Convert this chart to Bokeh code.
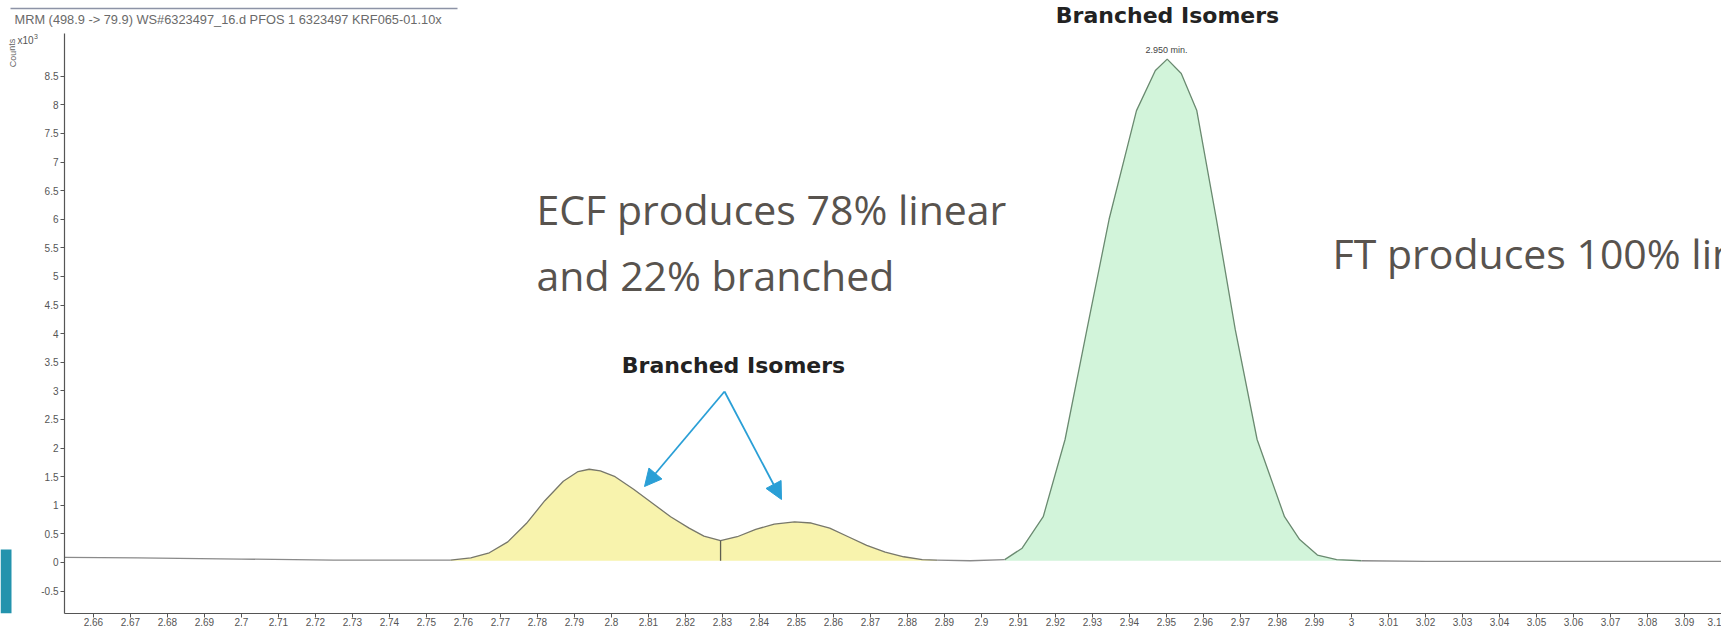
from bokeh.plotting import figure
from bokeh.layouts import column, row
from bokeh.models import Label, Arrow, NormalHead, FixedTicker, Range1d
from bokeh.embed import file_html
from bokeh.resources import INLINE

# ---------------- data ----------------
base_left_rt = [2.6522, 2.672, 2.700, 2.725, 2.745, 2.7565]
base_left_counts = [0.09, 0.08, 0.06, 0.04, 0.04, 0.04]

ecf_rt = [2.7565, 2.762, 2.767, 2.772, 2.777, 2.782, 2.787, 2.791, 2.794, 2.797,
          2.801, 2.806, 2.811, 2.816, 2.821, 2.825, 2.8295, 2.834, 2.839, 2.844,
          2.8495, 2.854, 2.859, 2.864, 2.869, 2.874, 2.879, 2.884, 2.888]
ecf_counts = [0.04, 0.08, 0.17, 0.36, 0.68, 1.08, 1.42, 1.59, 1.63, 1.60,
              1.50, 1.28, 1.04, 0.80, 0.60, 0.46, 0.38, 0.45, 0.58, 0.67,
              0.71, 0.69, 0.60, 0.45, 0.30, 0.18, 0.10, 0.05, 0.04]
ecf_valley_index = 16

base_mid_rt = [2.888, 2.897, 2.9063]
base_mid_counts = [0.04, 0.03, 0.05]

ft_rt = [2.9063, 2.911, 2.9167, 2.9226, 2.9285, 2.9345, 2.9419, 2.947, 2.9502,
         2.954, 2.9582, 2.9635, 2.9686, 2.9745, 2.9819, 2.986, 2.9908, 2.996, 3.0027]
ft_counts = [0.05, 0.25, 0.80, 2.15, 4.07, 6.00, 7.90, 8.60, 8.80,
             8.55, 7.90, 6.00, 4.07, 2.15, 0.80, 0.40, 0.13, 0.05, 0.03]

base_right_rt = [3.0027, 3.02, 3.05, 3.10]
base_right_counts = [0.03, 0.02, 0.02, 0.02]

fill_floor = 0.03

x_ticks = [2.66, 2.67, 2.68, 2.69, 2.70, 2.71, 2.72, 2.73, 2.74, 2.75, 2.76, 2.77,
           2.78, 2.79, 2.80, 2.81, 2.82, 2.83, 2.84, 2.85, 2.86, 2.87, 2.88, 2.89,
           2.90, 2.91, 2.92, 2.93, 2.94, 2.95, 2.96, 2.97, 2.98, 2.99, 3.00, 3.01,
           3.02, 3.03, 3.04, 3.05, 3.06, 3.07, 3.08, 3.09, 3.10]
x_tick_labels = ["2.66", "2.67", "2.68", "2.69", "2.7", "2.71", "2.72", "2.73", "2.74",
                 "2.75", "2.76", "2.77", "2.78", "2.79", "2.8", "2.81", "2.82", "2.83",
                 "2.84", "2.85", "2.86", "2.87", "2.88", "2.89", "2.9", "2.91", "2.92",
                 "2.93", "2.94", "2.95", "2.96", "2.97", "2.98", "2.99", "3", "3.01",
                 "3.02", "3.03", "3.04", "3.05", "3.06", "3.07", "3.08", "3.09", "3.1"]
y_ticks = [-0.5, 0.0, 0.5, 1.0, 1.5, 2.0, 2.5, 3.0, 3.5, 4.0, 4.5, 5.0, 5.5, 6.0,
           6.5, 7.0, 7.5, 8.0, 8.5]
y_tick_labels = ["-0.5", "0", "0.5", "1", "1.5", "2", "2.5", "3", "3.5", "4", "4.5",
                 "5", "5.5", "6", "6.5", "7", "7.5", "8", "8.5"]

# ---------------- geometry ----------------
W, H = 1721, 631
HEAD_H = 33          # header strip height
STRIP_W = 38         # left strip (axis caption) width
FL, FB = 64, 613     # main frame left / bottom, canvas pixels


def bare(width, height, xr, yr):
    f = figure(width=width, height=height, output_backend="svg", toolbar_location=None,
               x_range=Range1d(*xr), y_range=Range1d(*yr),
               x_axis_location=None, y_axis_location=None,
               min_border_left=0, min_border_right=0, min_border_top=0, min_border_bottom=0)
    f.outline_line_color = None
    f.grid.visible = False
    f.background_fill_color = "white"
    f.border_fill_color = "white"
    return f


def add_label(fig, text, x, y, size, color, font="Liberation Sans", style="normal",
              align="left", baseline="middle", angle=0, units="data"):
    fig.add_layout(Label(x=x, y=y, x_units=units, y_units=units,
                         text=text, text_font=font, text_font_size=size,
                         text_color=color, text_font_style=style,
                         text_align=align, text_baseline=baseline, angle=angle))


# ---------------- header strip (canvas pixel coordinates) ----------------
head = bare(W, HEAD_H, (0, W), (HEAD_H, 0))
head.segment(x0=[10], y0=[8], x1=[457], y1=[8], line_color="#8d93a6", line_width=1.5)
add_label(head, "MRM (498.9 -> 79.9) WS#6323497_16.d PFOS 1 6323497 KRF065-01.10x",
          14, 19, "12.8px", "#6a6a6a")
add_label(head, "Branched Isomers", 1167, 15, "22px", "#222222", font="DejaVu Sans",
          style="bold", align="center")

# ---------------- left caption strip (local pixel coordinates) ----------------
strip = bare(STRIP_W, H - HEAD_H, (0, STRIP_W), (H - HEAD_H, 0))
strip.quad(left=[0], right=[11], top=[532], bottom=[H - HEAD_H],
           fill_color="#2393ad", line_color=None)
add_label(strip, "Counts", 12, 20, "9px", "#666666", align="center", angle=1.5708)
add_label(strip, "x10", 33, 7, "10px", "#555555", align="right")
add_label(strip, "3", 33.5, 3, "7px", "#555555")

# ---------------- main chromatogram ----------------
p = figure(width=W - STRIP_W, height=H - HEAD_H, output_backend="svg",
           toolbar_location=None,
           x_range=Range1d(2.6522, 3.100), y_range=Range1d(-0.892, 9.248),
           min_border_left=FL - STRIP_W, min_border_right=0, min_border_top=0,
           min_border_bottom=H - FB)
p.outline_line_color = None
p.grid.visible = False
p.background_fill_color = "white"
p.border_fill_color = "white"

p.xaxis.ticker = FixedTicker(ticks=x_ticks)
p.xaxis.major_label_overrides = dict(zip(x_ticks, x_tick_labels))
p.yaxis.ticker = FixedTicker(ticks=y_ticks)
p.yaxis.major_label_overrides = dict(zip(y_ticks, y_tick_labels))
for ax in (p.xaxis[0], p.yaxis[0]):
    ax.axis_line_color = "#555555"
    ax.axis_line_width = 1.2
    ax.major_tick_line_color = "#555555"
    ax.minor_tick_line_color = None
    ax.major_tick_out = 4
    ax.major_tick_in = 0
    ax.major_label_text_font = "Liberation Sans"
    ax.major_label_text_font_size = "10px"
    ax.major_label_text_color = "#555555"
p.xaxis.major_label_standoff = 0
p.yaxis.major_label_standoff = 2

p.varea(x=ecf_rt, y1=fill_floor, y2=ecf_counts, fill_color="#f8f3ad")
p.varea(x=ft_rt, y1=fill_floor, y2=ft_counts, fill_color="#d2f4da")

for xs, ys in ((base_left_rt, base_left_counts), (base_mid_rt, base_mid_counts),
               (base_right_rt, base_right_counts)):
    p.line(xs, ys, line_color="#8a8a8a", line_width=1.3)

p.line(ecf_rt, ecf_counts, line_color="#77776a", line_width=1.3)
p.line(ft_rt, ft_counts, line_color="#6a8a70", line_width=1.3)
p.segment(x0=[ecf_rt[ecf_valley_index]], y0=[fill_floor],
          x1=[ecf_rt[ecf_valley_index]], y1=[ecf_counts[ecf_valley_index]],
          line_color="#5e5e50", line_width=1.3)


def main_label(text, cx, cy, size, color, **kw):
    # cx, cy: canvas pixels -> screen units relative to the main frame
    add_label(p, text, cx - FL, FB - cy, size, color, units="screen", **kw)


txt = "#58534e"
main_label("ECF produces 78% linear", 536, 208, "41px", txt, font="Open Sans")
main_label("and 22% branched", 536, 274, "41px", txt, font="Open Sans")
main_label("FT produces 100% linear", 1332, 252, "41px", txt, font="Open Sans")
main_label("Branched Isomers", 733, 365, "22px", "#222222", font="DejaVu Sans",
           style="bold", align="center")
main_label("2.950 min.", 1166, 49, "9px", "#444444", align="center")

blue = "#2a9fd6"
for ex, ey in ((644, 486), (781, 499)):
    p.add_layout(Arrow(end=NormalHead(size=17, fill_color=blue, line_color=blue),
                       x_start=724 - FL, y_start=FB - 391, x_end=ex - FL, y_end=FB - ey,
                       start_units="screen", end_units="screen",
                       line_color=blue, line_width=1.8))

layout = column(head, row(strip, p, spacing=0), spacing=0)
open("out.html", "w").write(file_html(layout, INLINE))
